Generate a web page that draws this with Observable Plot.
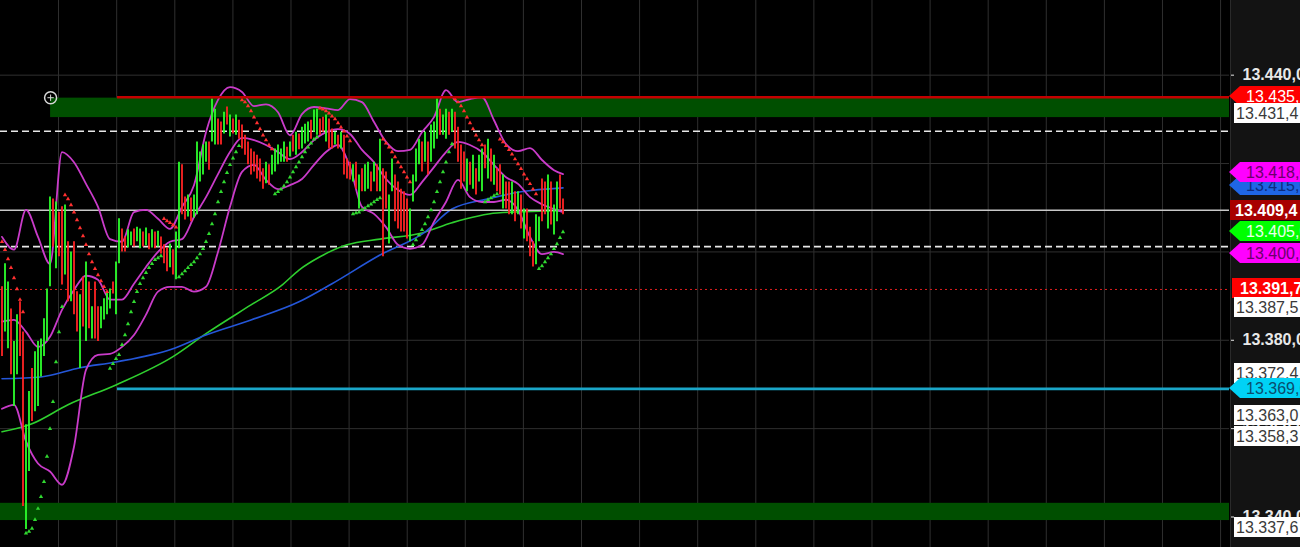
<!DOCTYPE html>
<html><head><meta charset="utf-8">
<script src="https://cdn.jsdelivr.net/npm/d3@7"></script>
<script src="https://cdn.jsdelivr.net/npm/@observablehq/plot@0.6"></script>
<style>html,body{margin:0;padding:0;background:#000;overflow:hidden}</style>
</head><body><div id="chart"></div>
<script>
// ---- price bars (bar index = position in array) ----
const barHigh = [
13.3921,13.3973,13.3932,13.3871,13.3797,13.3858,13.3887,13.3819,13.3609,13.3684,
13.3736,13.3774,13.3797,13.3803,13.3849,13.3916,13.4124,13.4120,13.4113,13.4090,
13.4102,13.4106,13.4023,13.4000,13.4023,13.3910,13.3903,13.3943,13.3977,13.3932,
13.3876,13.3932,13.3876,13.3876,13.3894,13.3910,13.3916,13.3932,13.3977,13.4075,
13.4052,13.4034,13.4050,13.4045,13.4052,13.4056,13.4052,13.4045,13.4054,13.4041,
13.4050,13.4045,13.4047,13.4034,13.4016,13.4009,13.4018,13.4005,13.4045,13.4203,
13.4197,13.4124,13.4129,13.4122,13.4129,13.4249,13.4226,13.4242,13.4249,13.4249,
13.4346,13.4323,13.4301,13.4294,13.4316,13.4328,13.4310,13.4301,13.4310,13.4298,
13.4287,13.4264,13.4249,13.4233,13.4226,13.4219,13.4210,13.4188,13.4203,13.4197,
13.4219,13.4233,13.4242,13.4233,13.4249,13.4237,13.4249,13.4264,13.4271,13.4267,
13.4282,13.4289,13.4294,13.4298,13.4321,13.4323,13.4301,13.4305,13.4310,13.4301,
13.4278,13.4271,13.4264,13.4271,13.4264,13.4210,13.4203,13.4197,13.4203,13.4174,
13.4188,13.4197,13.4203,13.4181,13.4203,13.4197,13.4255,13.4188,13.4181,13.4129,
13.4210,13.4174,13.4158,13.4142,13.4136,13.4120,13.4097,13.4174,13.4233,13.4255,
13.4249,13.4271,13.4249,13.4287,13.4294,13.4346,13.4323,13.4310,13.4323,13.4316,
13.4323,13.4316,13.4282,13.4242,13.4226,13.4210,13.4203,13.4219,13.4188,13.4219,
13.4233,13.4242,13.4255,13.4233,13.4219,13.4188,13.4197,13.4174,13.4158,13.4158,
13.4158,13.4136,13.4136,13.4129,13.4097,13.4097,13.4056,13.4023,13.4084,13.4079,
13.4165,13.4158,13.4174,13.4158,13.4106,13.4158,13.4174,13.4120];
const barLow = [
13.3763,13.3819,13.3781,13.3722,13.3650,13.3722,13.3763,13.3424,13.3372,13.3503,
13.3616,13.3638,13.3650,13.3717,13.3763,13.3797,13.3921,13.4011,13.3962,13.3989,
13.3925,13.3948,13.3887,13.3887,13.3858,13.3819,13.3736,13.3830,13.3797,13.3826,
13.3803,13.3803,13.3797,13.3826,13.3846,13.3858,13.3871,13.3905,13.3858,13.3973,
13.4000,13.4000,13.4009,13.4014,13.4011,13.4023,13.4007,13.4011,13.4014,13.4005,
13.4009,13.4007,13.4011,13.3995,13.3973,13.3955,13.3964,13.3948,13.3937,13.4007,
13.4084,13.4072,13.4079,13.4068,13.4077,13.4084,13.4158,13.4174,13.4203,13.4185,
13.4249,13.4242,13.4242,13.4242,13.4267,13.4287,13.4260,13.4267,13.4264,13.4255,
13.4233,13.4219,13.4197,13.4174,13.4181,13.4165,13.4158,13.4142,13.4154,13.4151,
13.4174,13.4181,13.4197,13.4203,13.4203,13.4203,13.4215,13.4226,13.4219,13.4231,
13.4233,13.4244,13.4249,13.4255,13.4271,13.4264,13.4264,13.4271,13.4249,13.4233,
13.4233,13.4242,13.4233,13.4233,13.4174,13.4165,13.4163,13.4158,13.4142,13.4097,
13.4136,13.4136,13.4142,13.4136,13.4158,13.4136,13.4136,13.3989,13.4097,13.4018,
13.4136,13.4068,13.4052,13.4045,13.4045,13.4029,13.4023,13.4113,13.4158,13.4197,
13.4181,13.4203,13.4174,13.4203,13.4233,13.4255,13.4264,13.4264,13.4255,13.4264,
13.4271,13.4233,13.4203,13.4142,13.4158,13.4136,13.4151,13.4142,13.4129,13.4158,
13.4136,13.4188,13.4165,13.4158,13.4151,13.4136,13.4129,13.4097,13.4097,13.4084,
13.4084,13.4068,13.4084,13.4052,13.4029,13.4023,13.3989,13.3966,13.3971,13.4023,
13.4068,13.4084,13.4052,13.4061,13.4038,13.4068,13.4097,13.4084];
// g = up bar, r = down bar
const barColorCode =
"rggrggrrgg"+"rggggggrgr"+"rgrgrrgrgr"+"grrggggrgg"+"rrggrggrgr"+
"grgrrrgrgg"+"rrgrgggggr"+"ggrrgrgrgr"+"rrrrrrrrgr"+"gggggrgrgr"+
"gggrggrrgr"+"rgrgrrrgrg"+"rggrgrgrrg"+"grrrrrgggg"+"rgrgggrggr"+
"grrrrgrgrg"+"grgrgrrgrr"+"grgrgrrrgg"+"rrgrggrr";
// parabolic SAR, one per bar
const sarValues = [
13.4023,13.4005,13.3984,13.3964,13.3941,13.3916,13.3892,13.3864,
13.3363,13.3367,13.3374,13.3394,13.3419,13.3446,13.3480,13.3537,13.3600,13.3661,13.3751,13.3819,13.3876,
13.4129,13.4120,13.4106,13.4090,13.4072,13.4054,13.4036,13.4016,13.3995,13.3977,13.3962,13.3948,13.3934,13.3921,13.3910,
13.3736,13.3747,13.3758,13.3767,13.3790,13.3812,13.3837,13.3864,13.3887,13.3910,13.3928,13.3941,13.3953,13.3964,13.3973,13.3982,13.3986,13.3991,
13.4075,13.4070,13.4066,13.4061,13.4056,
13.3943,13.3950,13.3957,13.3964,13.3971,13.3977,13.3986,13.3995,13.4007,13.4023,13.4041,13.4063,13.4086,13.4113,13.4136,13.4158,13.4179,13.4197,13.4212,13.4226,13.4240,
13.4344,13.4339,13.4330,13.4319,13.4305,13.4292,13.4278,13.4264,13.4253,13.4242,13.4233,
13.4131,13.4136,13.4142,13.4149,13.4158,13.4169,13.4181,13.4192,13.4203,13.4215,13.4226,13.4237,13.4246,13.4255,13.4260,
13.4325,13.4323,13.4319,13.4314,13.4307,13.4301,13.4292,13.4282,13.4273,13.4262,13.4251,
13.4086,13.4088,13.4090,13.4095,13.4099,13.4104,13.4108,13.4113,13.4118,13.4122,
13.4255,13.4246,13.4237,13.4226,13.4215,13.4203,13.4192,13.4181,13.4169,13.4158,
13.4016,13.4027,13.4038,13.4050,13.4063,13.4079,13.4095,13.4113,13.4136,13.4158,13.4181,13.4203,13.4226,13.4244,
13.4346,13.4339,13.4330,13.4319,13.4305,13.4292,13.4278,13.4264,13.4253,13.4242,
13.4113,13.4118,13.4122,13.4127,13.4131,
13.4255,13.4249,13.4240,13.4231,13.4221,13.4210,13.4199,13.4188,13.4176,13.4165,13.4154,13.4142,13.4131,
13.3962,13.3968,13.3977,13.3986,13.3995,13.4007,13.4018,13.4032,13.4045];
// Bollinger bands, read at these bar indices
const bbIdx = [0,4,8,12,16,20,24,28,32,36,40,44,48,52,56,60,64,68,72,76,80,84,88,92,96,100,104,108,112,116,120,124,128,132,136,140,144,148,152,156,160,164,168,172,176,180,184,187];
const bbUpper = [13.4034,13.4005,13.4095,13.4034,13.3973,13.4226,13.4203,13.4154,13.4102,13.4029,13.4023,13.4090,13.4095,13.4075,13.4052,13.4102,13.4151,13.4271,13.4344,13.4373,13.4362,13.4330,13.4334,13.4316,13.4264,13.4312,13.4328,13.4325,13.4321,13.4346,13.4339,13.4294,13.4249,13.4228,13.4231,13.4271,13.4305,13.4366,13.4339,13.4346,13.4350,13.4298,13.4244,13.4228,13.4235,13.4208,13.4185,13.4176];
const bbMiddle = [13.3842,13.3846,13.3819,13.3785,13.3808,13.3869,13.3914,13.3946,13.3937,13.3892,13.3892,13.3928,13.3966,13.4000,13.4023,13.4029,13.4079,13.4124,13.4176,13.4226,13.4258,13.4253,13.4242,13.4226,13.4210,13.4226,13.4253,13.4271,13.4278,13.4267,13.4231,13.4203,13.4165,13.4140,13.4129,13.4158,13.4192,13.4226,13.4249,13.4242,13.4226,13.4197,13.4169,13.4154,13.4124,13.4108,13.4097,13.4090];
const bbLower = [13.3645,13.3654,13.3571,13.3521,13.3503,13.3473,13.3559,13.3733,13.3767,13.3769,13.3785,13.3812,13.3858,13.3910,13.3921,13.3921,13.3910,13.3921,13.4000,13.4102,13.4181,13.4197,13.4163,13.4142,13.4151,13.4165,13.4197,13.4226,13.4242,13.4192,13.4102,13.4086,13.4056,13.4016,13.4007,13.4016,13.4068,13.4113,13.4163,13.4124,13.4113,13.4113,13.4118,13.4095,13.4034,13.3995,13.4000,13.3995];
// moving averages
const maBlueIdx = [0,13,26,38,57,68,83,99,110,126,141,150,162,173,187];
const maBlue = [13.3713,13.3717,13.3738,13.3751,13.3781,13.3812,13.3846,13.3887,13.3928,13.3993,13.4045,13.4097,13.4120,13.4136,13.4145];
const maGreenIdx = [0,10,22,38,57,68,83,93,99,106,115,126,140,150,165,187];
const maGreen = [13.3593,13.3611,13.3654,13.3699,13.3763,13.3815,13.3880,13.3923,13.3959,13.3989,13.4016,13.4029,13.4043,13.4066,13.4088,13.4093];
// grid & axis
const gridIdx = [18.83,38.23,57.6,76.97,96.33,115.7,135.07,154.43,173.8,193.17,212.53,231.9,251.27,270.63,290,309.37,328.73,348.1,367.47,386.83,406.2];
const gridPrices = [13.34,13.36,13.38,13.40,13.42,13.44];
const axisTicks = [13.44,13.40,13.38,13.36,13.34];
// horizontal objects
const dashedLevels = [13.4273,13.4012];
const priceLevel = 13.4094;
const dottedLevel = 13.3915;
const resistanceLevel = 13.4350;
const supportLevel = 13.3690;
const levelStartIdx = 38.5;
const zoneTops = [13.4348,13.3431];
const zoneBottoms = [13.4304,13.3392];
const zoneStartIdx = [16.2,-0.5];
const anchorIdx = 16.2, anchorPrice = 13.4349;
// right-hand price tags
const tagValues = [13.4352,13.4314,13.4150,13.4180,13.4094,13.4046,13.3997,13.3917,13.3875,13.3724,13.3690,13.3630,13.3583,13.3376];
const tagTexts = ["13.435,2","13.431,4","13.415,0","13.418,0","13.409,4","13.405,0","13.400,0","13.391,7","13.387,5","13.372,4","13.369,0","13.363,0","13.358,3","13.337,6"];
const tagKinds = ["red","white","blue","magenta","darkred","green","magenta","redbox","white","white","cyan","white","white","white"];

const X0 = -0.5, X1 = 409.17;
const W = 1300, H = 547, MR = 71;
const bars = barHigh.map((h, i) => ({i, high: h, low: barLow[i], up: barColorCode[i] === "g", sar: sarValues[i]}));
const band = arr => bbIdx.map((i, k) => ({i, v: arr[k]}));
const blue = maBlueIdx.map((i, k) => ({i, v: maBlue[k]}));
const green = maGreenIdx.map((i, k) => ({i, v: maGreen[k]}));
const zones = zoneTops.map((t, k) => ({top: t, bottom: zoneBottoms[k], s: zoneStartIdx[k], e: X1}));
const longLevels = [{v: supportLevel, s: levelStartIdx, e: X1, c: "#1aa6c8"}, {v: resistanceLevel, s: levelStartIdx, e: X1, c: "#c40000"}];

const plot = Plot.plot({
  width: W, height: H,
  marginTop: 0, marginBottom: 0, marginLeft: 0, marginRight: MR,
  x: {domain: [X0, X1], axis: null},
  y: {domain: [13.3331, 13.4569], axis: null},
  color: {type: "identity"},
  style: {background: "#000", color: "#e8e8e8", fontFamily: "'Liberation Sans', Arial, sans-serif", fontSize: "16px"},
  marks: [
    Plot.ruleX(gridIdx, {stroke: "#2f2f2f"}),
    Plot.ruleY(gridPrices, {stroke: "#2f2f2f"}),
    Plot.rect(zones, {x1: "s", x2: "e", y1: "bottom", y2: "top", fill: "#004f00"}),
    Plot.ruleY(dashedLevels, {stroke: "#e8e8e8", strokeWidth: 1.6, strokeDasharray: "7,4"}),
    Plot.ruleY([dottedLevel], {stroke: "#e02020", strokeWidth: 1, strokeDasharray: "2,3"}),
    Plot.line(green, {x: "i", y: "v", stroke: "#2fcf2f", strokeWidth: 1.6, curve: "monotone-x"}),
    Plot.line(blue, {x: "i", y: "v", stroke: "#2456d8", strokeWidth: 1.6, curve: "monotone-x"}),
    Plot.ruleY([priceLevel], {stroke: "#c8c8c8", strokeWidth: 1.5}),
    Plot.line(band(bbUpper), {x: "i", y: "v", stroke: "#c93bc9", strokeWidth: 1.8, curve: "monotone-x"}),
    Plot.line(band(bbMiddle), {x: "i", y: "v", stroke: "#c93bc9", strokeWidth: 1.8, curve: "monotone-x"}),
    Plot.line(band(bbLower), {x: "i", y: "v", stroke: "#c93bc9", strokeWidth: 1.8, curve: "monotone-x"}),
    Plot.ruleX(bars, {x: "i", y1: "low", y2: "high", stroke: d => d.up ? "#2cff2c" : "#ff2424", strokeWidth: 1.8}),
    Plot.dot(bars, {x: "i", y: "sar", symbol: "triangle", r: 1.6, stroke: null, fill: d => d.sar > (d.high + d.low) / 2 ? "#ff3030" : "#30d830"}),
    Plot.ruleY(longLevels, {y: "v", x1: "s", x2: "e", stroke: "c", strokeWidth: 2.6}),
    Plot.dot([{i: anchorIdx, v: anchorPrice}], {x: "i", y: "v", r: 6, stroke: "#d8d8d8", strokeWidth: 1.5, fill: "none"}),
    Plot.dot([{i: anchorIdx, v: anchorPrice}], {x: "i", y: "v", symbol: "plus", r: 2.2, stroke: "#d8d8d8", strokeWidth: 1}),
    Plot.axisY({anchor: "right", ticks: axisTicks, tickSize: 4, tickPadding: 9, tickFormat: d => d.toFixed(3) + ",0", fontSize: 16, fontWeight: "bold"})
  ]
});

const svg = d3.select(plot);
const FR = W - MR; // right edge of plotting frame
svg.insert("rect", ":first-child").attr("x", FR + 1).attr("y", 0).attr("width", MR).attr("height", H).attr("fill", "#131313");
svg.insert("rect", ":first-child").attr("x", 0).attr("y", 0).attr("width", W).attr("height", H).attr("fill", "#000");
svg.append("line").attr("x1", FR + 1.5).attr("x2", FR + 1.5).attr("y1", 0).attr("y2", H).attr("stroke", "#2a2a2a");

const tagStyle = {
  red:     {shape: "arrow", fill: "#ff0000", color: "#ffffff", tx: 17, bold: false},
  white:   {shape: "box", x0: 5, fill: "#ffffff", color: "#3a3a3a", tx: 7, bold: false},
  blue:    {shape: "arrow", fill: "#1f66e5", color: "#0d2b7c", tx: 17, bold: false},
  magenta: {shape: "arrow", fill: "#ff00ff", color: "#6b006b", tx: 17, bold: false},
  darkred: {shape: "box", x0: 1, fill: "#a80000", color: "#ffffff", tx: 6, bold: true},
  green:   {shape: "arrow", fill: "#00ff00", color: "#eaffea", tx: 17, bold: false},
  redbox:  {shape: "box", x0: 3, fill: "#ff0000", color: "#ffffff", tx: 11, bold: true},
  cyan:    {shape: "arrow", fill: "#00d2f5", color: "#0a4d6e", tx: 17, bold: false}
};
const ys = plot.scale("y");
const g = svg.append("g").attr("font-family", "'Liberation Sans', Arial, sans-serif").attr("font-size", 16).attr("text-anchor", "start");
tagValues.forEach((v, k) => {
  const s = tagStyle[tagKinds[k]];
  const yy = Math.round(ys.apply(v));
  if (s.shape === "arrow") {
    g.append("path").attr("d", `M${FR},${yy} L${FR + 11},${yy - 10} L${W},${yy - 10} L${W},${yy + 10} L${FR + 11},${yy + 10} Z`).attr("fill", s.fill);
  } else {
    g.append("rect").attr("x", FR + s.x0).attr("y", yy - 10).attr("width", W - FR - s.x0).attr("height", 20).attr("fill", s.fill);
  }
  g.append("text").attr("x", FR + s.tx).attr("y", yy).attr("dy", "0.36em").attr("fill", s.color)
    .attr("text-anchor", "start").attr("font-weight", s.bold ? "bold" : "normal").text(tagTexts[k]);
});

document.getElementById("chart").appendChild(plot);
</script>
</body></html>
